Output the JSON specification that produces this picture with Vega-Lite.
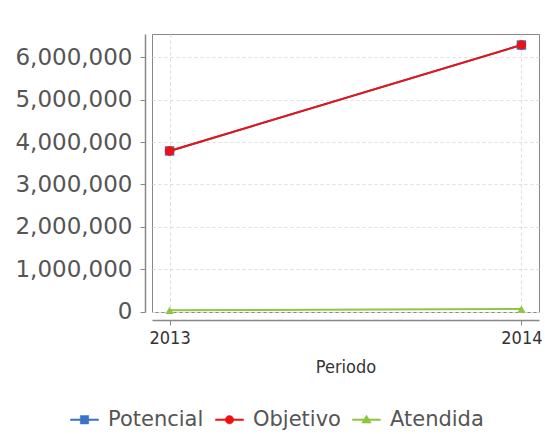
{
  "$schema": "https://vega.github.io/schema/vega-lite/v6.json",
  "autosize": {"type": "none"},
  "padding": {"left": 152, "top": 34, "right": 6, "bottom": 122},
  "width": 387,
  "height": 278,
  "background": "white",
  "config": {
    "view": {"stroke": "#888", "strokeWidth": 1},
    "font": "DejaVu Sans"
  },
  "data": {
    "values": [
      {"periodo": "2013", "serie": "Potencial", "valor": 3790000},
      {"periodo": "2014", "serie": "Potencial", "valor": 6290000},
      {"periodo": "2013", "serie": "Objetivo", "valor": 3790000},
      {"periodo": "2014", "serie": "Objetivo", "valor": 6290000},
      {"periodo": "2013", "serie": "Atendida", "valor": 30000},
      {"periodo": "2014", "serie": "Atendida", "valor": 60000}
    ]
  },
  "encoding": {
    "x": {
      "field": "periodo", "type": "ordinal",
      "scale": {"type": "point", "padding": 0.05},
      "axis": {
        "title": "Periodo", "titleFont": "DejaVu Sans Condensed", "titleFontSize": 18,
        "titleFontWeight": "normal", "titleColor": "#333", "titlePadding": 11,
        "labelFont": "DejaVu Sans Condensed", "labelFontSize": 18, "labelColor": "#333",
        "labelAngle": 0, "labelPadding": 4, "offset": 8, "tickSize": 5,
        "tickColor": "#888", "domainColor": "#888", "domainWidth": 1.5,
        "grid": true, "gridDash": [3, 3], "gridColor": "#ddd"
      }
    },
    "y": {
      "field": "valor", "type": "quantitative",
      "scale": {"domain": [-10000, 6550000], "nice": false, "zero": false},
      "axis": {
        "title": null, "values": [0, 1000000, 2000000, 3000000, 4000000, 5000000, 6000000],
        "format": ",d", "labelFont": "DejaVu Sans", "labelFontSize": 23, "labelColor": "#555",
        "labelPadding": 8, "offset": 7, "tickSize": 5, "tickColor": "#888",
        "domainColor": "#888", "domainWidth": 1.5,
        "grid": true, "gridDash": [3, 3], "gridColor": "#ddd"
      }
    }
  },
  "layer": [
    {
      "mark": {"type": "line", "strokeWidth": 2},
      "encoding": {
        "color": {
          "field": "serie", "type": "nominal",
          "scale": {"domain": ["Potencial", "Objetivo", "Atendida"], "range": ["#3b73c8", "#ee1111", "#8dc63f"]}
        },
        "detail": {"field": "serie"}
      }
    },
    {
      "transform": [{"filter": "datum.serie === 'Potencial'"}],
      "mark": {"type": "point", "filled": true, "opacity": 1, "size": 90, "shape": "square", "color": "#3b73c8"}
    },
    {
      "transform": [{"filter": "datum.serie === 'Objetivo'"}],
      "mark": {"type": "point", "filled": true, "opacity": 1, "size": 90, "shape": "circle", "color": "#ee1111"}
    },
    {
      "transform": [{"filter": "datum.serie === 'Atendida'"}],
      "mark": {"type": "point", "filled": true, "opacity": 1, "size": 70, "shape": "triangle-up", "color": "#8dc63f"}
    },
    {
      "transform": [{"filter": "datum.valor < 0"}],
      "mark": {"type": "point", "filled": true, "opacity": 1},
      "encoding": {
        "shape": {
          "field": "serie", "type": "nominal",
          "scale": {
            "domain": ["Potencial", "Objetivo", "Atendida"],
            "range": [
              "M-1,-0.055H1V0.055H-1ZM-0.3,-0.3H0.3V0.3H-0.3Z",
              "M-1,-0.055H1V0.055H-1ZM0.3,0A0.3,0.3,0,1,1,-0.3,0A0.3,0.3,0,1,1,0.3,0Z",
              "M-1,-0.055H1V0.055H-1ZM0,-0.34L0.34,0.24L-0.34,0.24Z"
            ]
          },
          "legend": {
            "orient": "none", "legendX": -82, "legendY": 371, "direction": "horizontal",
            "title": null, "labelFont": "DejaVu Sans", "labelFontSize": 21, "labelColor": "#555",
            "symbolSize": 784, "labelOffset": 9, "columnPadding": 10, "symbolStrokeWidth": 0.5
          }
        },
        "color": {
          "field": "serie", "type": "nominal",
          "scale": {"domain": ["Potencial", "Objetivo", "Atendida"], "range": ["#3b73c8", "#ee1111", "#8dc63f"]},
          "legend": {
            "orient": "none", "legendX": -82, "legendY": 371, "direction": "horizontal",
            "title": null, "labelFont": "DejaVu Sans", "labelFontSize": 21, "labelColor": "#555",
            "symbolSize": 784, "labelOffset": 9, "columnPadding": 10, "symbolStrokeWidth": 0.5
          }
        }
      }
    }
  ]
}
